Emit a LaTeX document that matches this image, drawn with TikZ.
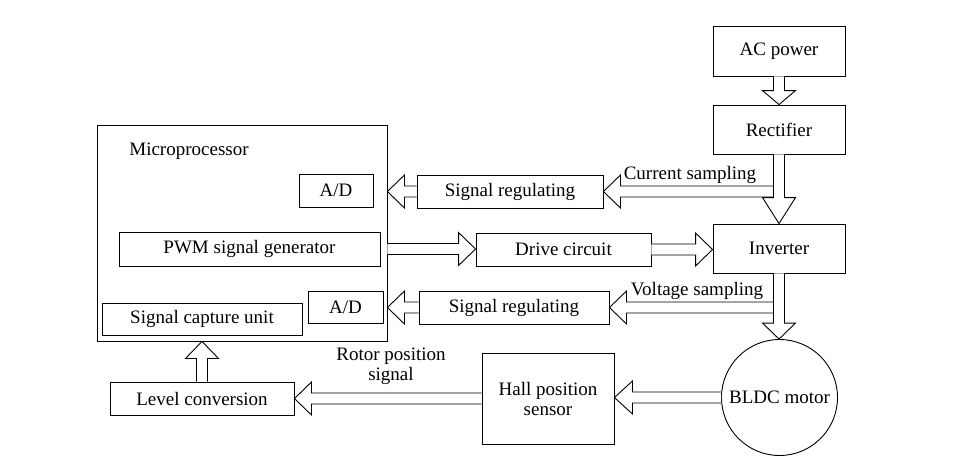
\documentclass[tikz,border=0pt]{standalone}
\usepackage{fontspec}
\setmainfont{Liberation Serif}
\usetikzlibrary{calc}
\tikzset{
  box/.style={draw, line width=0.9pt, inner sep=0pt, align=center, font=\fontsize{19}{20}\selectfont},
  lbl/.style={inner sep=0pt, align=center, font=\fontsize{19}{20}\selectfont},
  blk/.style={draw, line width=0.9pt, fill=white, line join=miter},
}
% hollow horizontal block arrow: #1 start, #2 tip, #3 signed head length (+ = tip on the right)
\newcommand\harrow[3]{%
  \draw[blk] let \p1=(#1), \p2=(#2), \n1={#3} in
    (\x1,{\y1+5.5pt}) -- ({\x2-\n1},{\y1+5.5pt}) -- ({\x2-\n1},{\y1+16.5pt}) -- (\x2,\y1)
    -- ({\x2-\n1},{\y1-16.5pt}) -- ({\x2-\n1},{\y1-5.5pt}) -- (\x1,{\y1-5.5pt});
}
% hollow vertical block arrow: #1 start, #2 tip, #3 signed head length (+ = tip below)
\newcommand\varrow[3]{%
  \draw[blk] let \p1=(#1), \p2=(#2), \n1={#3} in
    ({\x1-5.5pt},\y1) -- ({\x1-5.5pt},{\y2+\n1}) -- ({\x1-16.5pt},{\y2+\n1}) -- (\x1,\y2)
    -- ({\x1+16.5pt},{\y2+\n1}) -- ({\x1+5.5pt},{\y2+\n1}) -- ({\x1+5.5pt},\y1);
}
\begin{document}
\begin{tikzpicture}[x=1pt,y=-1pt]
\useasboundingbox (0,0) rectangle (969,467);
% right column
\node[box, minimum width=132pt, minimum height=50pt] (ac) at (779,51) {AC power};
\node[box, minimum width=132pt, minimum height=49pt] (rect) at (779,129.5) {Rectifier};
\node[box, minimum width=132pt, minimum height=49pt] (inv) at (779,248.5) {Inverter};
\node[box, circle, minimum size=116pt] (bldc) at (779.5,397.5) {BLDC motor};
% middle
\node[box, minimum width=186pt, minimum height=33pt] (sr1) at (510,191.5) {Signal regulating};
\node[box, minimum width=190pt, minimum height=33pt] (sr2) at (514,307.5) {Signal regulating};
\node[box, minimum width=175pt, minimum height=33pt] (drive) at (563.5,249.5) {Drive circuit};
\node[box, minimum width=132pt, minimum height=91pt] (hall) at (548,398.5) {Hall position\\sensor};
% microprocessor
\node[box, minimum width=290pt, minimum height=216pt] (micro) at (242,233) {};
\node[lbl] (mlabel) at (189,151) {Microprocessor};
\node[box, minimum width=74pt, minimum height=33pt] (ad1) at (336,190.5) {A/D};
\node[box, minimum width=261pt, minimum height=34pt] (pwm) at (249.5,249) {PWM signal generator};
\node[box, minimum width=75pt, minimum height=32pt] (ad2) at (345.5,307) {A/D};
\node[box, minimum width=200pt, minimum height=32pt] (cap) at (202,319) {Signal capture unit};
\node[box, minimum width=184pt, minimum height=33pt] (lvl) at (202,398.5) {Level conversion};
% labels
\node[lbl] (lcur) at (690,175) {Current sampling};
\node[lbl] (lvol) at (697,291) {Voltage sampling};
\node[lbl] (lrot) at (391,366) {Rotor position\\signal};
% sampling arrows (drawn first, ending on the left side of the vertical shafts)
\coordinate (cs) at ([xshift=-5.5pt]rect.south |- sr1.east);
\coordinate (vs) at ([xshift=-5.5pt]inv.south |- sr2.east);
\harrow{cs}{sr1.east}{-17pt}
\harrow{vs}{sr2.east}{-17pt}
% vertical arrows
\varrow{ac.south}{rect.north}{14pt}
\varrow{rect.south}{inv.north}{26pt}
\varrow{inv.south}{bldc.north}{16pt}
\varrow{lvl.north}{lvl.north |- micro.south}{-17pt}
% horizontal arrows
\harrow{sr1.west}{micro.east |- sr1.west}{-17pt}
\harrow{sr2.west}{micro.east |- sr2.west}{-17pt}
\harrow{micro.east |- pwm.east}{drive.west}{17pt}
\harrow{drive.east}{inv.west |- drive.east}{17pt}
\harrow{bldc.west}{hall.east |- bldc.west}{-18pt}
\harrow{hall.west}{lvl.east}{-17pt}
\end{tikzpicture}
\end{document}
